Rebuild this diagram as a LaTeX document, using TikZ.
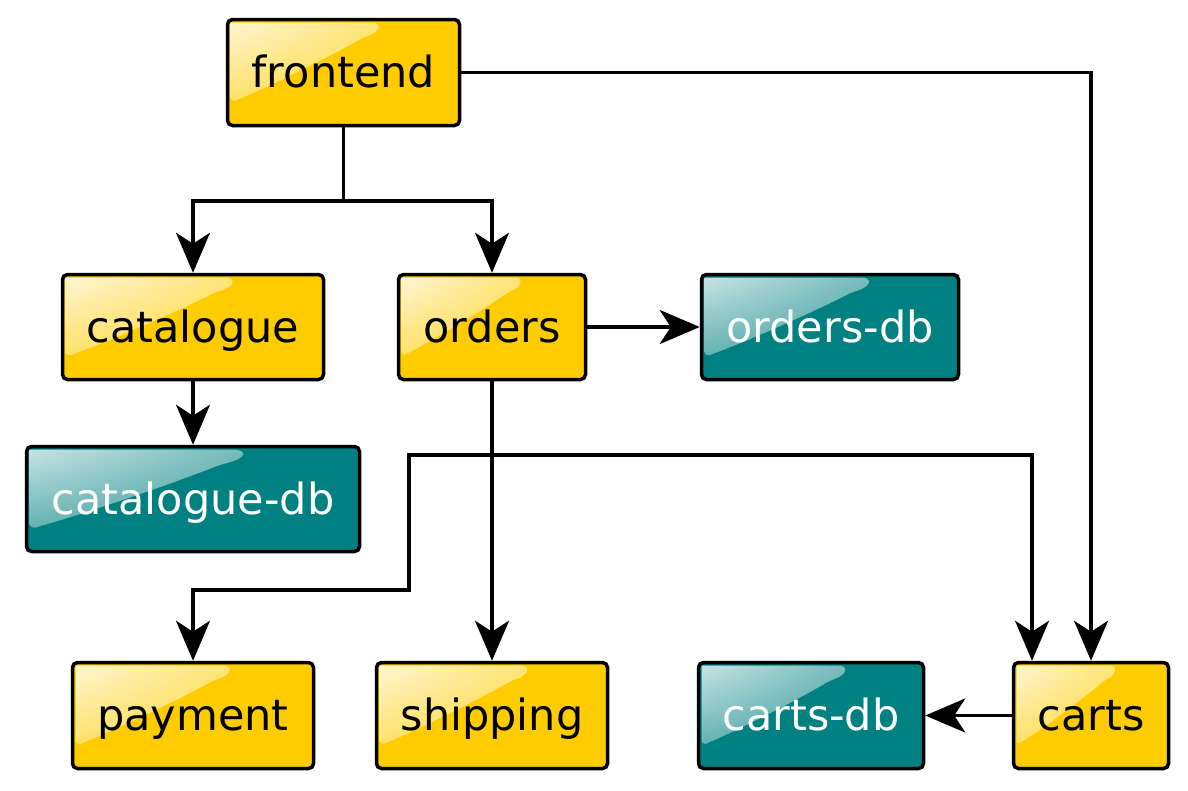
\documentclass[tikz,border=0pt]{standalone}
\usepackage{fontspec}
\setmainfont{DejaVu Sans}
\usetikzlibrary{arrows.meta,calc,shadings}
\definecolor{yel}{HTML}{FFCC00}
\definecolor{tealc}{HTML}{008080}
\tikzset{
  gloss/.style n args={4}{path picture={
    \shade[upper left=#1, upper right=#2, lower left=#3, lower right=#4]
      let \p1=(path picture bounding box.north west),
          \p2=(path picture bounding box.south east),
          \n1={\x2-\x1}, \n2={\y1-\y2} in
      (\x1+3pt,\y1-0.78*\n2) -- (\x1+3pt,\y1-8pt)
      .. controls (\x1+3pt,\y1-5pt) and (\x1+5pt,\y1-3pt) .. (\x1+8pt,\y1-3pt)
      -- (\x1+0.60*\n1,\y1-3pt)
      .. controls (\x1+0.665*\n1,\y1-3pt) and (\x1+0.665*\n1,\y1-0.11*\n2) .. (\x1+0.585*\n1,\y1-0.17*\n2)
      .. controls (\x1+0.40*\n1,\y1-0.40*\n2) and (\x1+0.15*\n1,\y1-0.66*\n2) .. (\x1+0.05*\n1,\y1-0.75*\n2)
      .. controls (\x1+0.03*\n1,\y1-0.77*\n2) .. cycle;
  }},
  box/.style={draw=black, line width=3.5pt, rounded corners=5pt, inner sep=0pt,
    text height=40pt, text depth=10pt, font=\fontsize{43}{50}\selectfont},
  ybox/.style={box, fill=yel, text=black,
    gloss={white!85!yel}{white!28!yel}{white!28!yel}{white!12!yel}},
  tbox/.style={box, fill=tealc, text=white,
    gloss={white!80!tealc}{white!30!tealc}{white!28!tealc}{white!12!tealc}},
  conn/.style={draw=black, line width=3.4pt,
    -{Stealth[length=40pt, width=34pt, inset=11pt]}},
}
\begin{document}
\begin{tikzpicture}[x=1pt,y=-1pt]
\useasboundingbox (0,0) rectangle (1188,790);
\node[ybox, minimum width=232pt, minimum height=106pt] (frontend) at (343.5,72.5) {frontend};
\node[ybox, minimum width=261pt, minimum height=105pt] (catalogue) at (193,327) {catalogue};
\node[ybox, minimum width=187pt, minimum height=105pt] (orders) at (492,327) {orders};
\node[tbox, minimum width=257pt, minimum height=105pt] (ordersdb) at (830,327) {orders-db};
\node[tbox, minimum width=333pt, minimum height=105pt] (cataloguedb) at (193,499) {catalogue-db};
\node[ybox, minimum width=241pt, minimum height=106pt] (payment) at (193,715.5) {payment};
\node[ybox, minimum width=231pt, minimum height=106pt] (shipping) at (492,715.5) {shipping};
\node[tbox, minimum width=225pt, minimum height=106pt] (cartsdb) at (811,715.5) {carts-db};
\node[ybox, minimum width=155pt, minimum height=106pt] (carts) at (1091,715.5) {carts};

\coordinate (fj) at (343.5,201);
\coordinate (oj) at (492,455);
\coordinate (pa) at (409,455);
\coordinate (pb) at (409,590);
\coordinate (ct) at ([xshift=-59pt]carts.north);

\draw[conn] (frontend.south) -- (fj) -| (catalogue.north);
\draw[conn] (fj) -| (orders.north);
\draw[conn] (frontend.east) -| (carts.north);
\draw[conn] (catalogue.south) -- (cataloguedb.north);
\draw[conn] (orders.east) -- (ordersdb.west);
\draw[conn] (orders.south) -- (shipping.north);
\draw[conn] (oj) -- (pa) -- (pb) -| (payment.north);
\draw[conn] (oj) -| (ct);
\draw[conn] (carts.west) -- (cartsdb.east);
\end{tikzpicture}
\end{document}
